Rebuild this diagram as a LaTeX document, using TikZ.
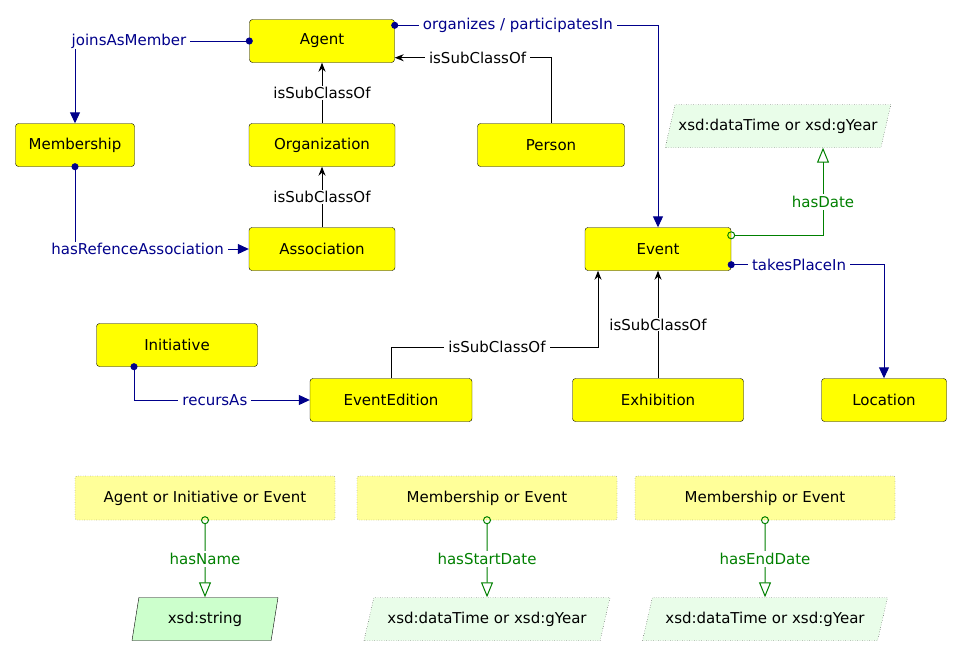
\documentclass[tikz,border=0pt]{standalone}
\usepackage{fontspec}
\setmainfont{DejaVu Sans}
\usetikzlibrary{arrows.meta,shapes.geometric}
\definecolor{propblue}{RGB}{0,0,139}
\definecolor{dpgreen}{RGB}{0,128,0}
\definecolor{clsyellow}{RGB}{255,255,0}
\definecolor{unionyellow}{RGB}{255,255,153}
\definecolor{dtgreen}{RGB}{233,253,233}
\definecolor{strgreen}{RGB}{204,255,204}
\newcommand{\lblfont}{\fontsize{15}{18}\selectfont}
\begin{document}
\begin{tikzpicture}[x=1pt,y=-1pt,
	cls/.style={rectangle,draw=black,fill=clsyellow,rounded corners=3pt,minimum height=43pt,font=\lblfont},
	union/.style={rectangle,draw=black,dotted,fill=unionyellow,rounded corners=2pt,minimum width=260pt,minimum height=44pt,font=\lblfont},
	dtype/.style={trapezium,trapezium left angle=65,trapezium right angle=115,trapezium stretches body,draw=black,dotted,fill=dtgreen,minimum height=43pt,font=\lblfont},
	objlbl/.style={fill=white,inner xsep=4pt,inner ysep=1pt,text=propblue,font=\lblfont},
	sublbl/.style={fill=white,inner xsep=4pt,inner ysep=1pt,text=black,font=\lblfont},
	datlbl/.style={fill=white,inner xsep=4pt,inner ysep=2pt,text=dpgreen,font=\lblfont},
	obj/.style={draw=propblue,line width=1pt,{Circle[length=7pt]}-{Triangle[length=11pt,width=10pt]},shorten <=-3.5pt},
	sub/.style={draw=black,line width=1pt,-{Stealth[length=9pt,width=7pt]}},
	dat/.style={draw=dpgreen,line width=1pt,{Circle[open,length=8pt]}-{Triangle[open,length=15pt,width=12pt]},shorten <=-4pt},
]
	\useasboundingbox (0,0) rectangle (971,656);
	% classes
	\node[cls,minimum width=145pt](agent) at (322,41){Agent};
	\node[cls,minimum width=119pt](membership) at (75,145){Membership};
	\node[cls,minimum width=146pt](organization) at (322,145){Organization};
	\node[cls,minimum width=147pt](person) at (551,145){Person};
	\node[cls,minimum width=146pt](association) at (322,249){Association};
	\node[cls,minimum width=146pt](event) at (658,249){Event};
	\node[cls,minimum width=161pt](initiative) at (177,345){Initiative};
	\node[cls,minimum width=162pt](edition) at (391,400){EventEdition};
	\node[cls,minimum width=171pt](exhibition) at (658,400){Exhibition};
	\node[cls,minimum width=125pt](location) at (884,400){Location};
	\node[dtype,minimum width=220pt](date) at (778,126){xsd:dataTime or xsd:gYear};
	% domains of the data properties
	\node[union](aie) at (205,498){Agent or Initiative or Event};
	\node[union](mes) at (487,498){Membership or Event};
	\node[union](mee) at (765,498){Membership or Event};
	\node[dtype,trapezium left angle=72,trapezium right angle=108,fill=strgreen,solid,minimum width=146pt](str) at (205,619){xsd:string};
	\node[dtype,minimum width=246pt](start) at (487,619){xsd:dataTime or xsd:gYear};
	\node[dtype,minimum width=245pt](end) at (765,619){xsd:dataTime or xsd:gYear};
	% object properties
	\draw[obj] (agent.west) -| (membership.north) node[objlbl,pos=0.345]{joinsAsMember};
	\draw[obj] (membership.south) |- (association.west) node[objlbl,pos=0.68]{hasRefenceAssociation};
	\draw[obj] ([yshift=-6pt]agent.north east) -| (event.north) node[objlbl,pos=0.234]{organizes / participatesIn};
	\draw[obj] ([yshift=6pt]event.south east) -| (location.north) node[objlbl,pos=0.222]{takesPlaceIn};
	\draw[obj] ([xshift=-43pt]initiative.south) |- (edition.west) node[objlbl,pos=0.73]{recursAs};
	% subclasses
	\draw[sub] (organization) -- (agent) node[sublbl,midway]{isSubClassOf};
	\draw[sub] (association) -- (organization) node[sublbl,midway]{isSubClassOf};
	\draw[sub] (person.north) |- ([yshift=5pt]agent.south east) node[sublbl,pos=0.735]{isSubClassOf};
	\draw[sub] (edition.north) -- ++(0,-31) -| ([xshift=-60pt]event.south) node[sublbl,pos=0.256]{isSubClassOf};
	\draw[sub] (exhibition.north) -- (event.south) node[sublbl,midway]{isSubClassOf};
	% data properties
	\draw[dat] ([yshift=-8pt]event.north east) -| ([xshift=45pt]date.south) node[datlbl,pos=0.69]{hasDate};
	\draw[dat] (aie.south) -- (str.north) node[datlbl,midway]{hasName};
	\draw[dat] (mes.south) -- (start.north) node[datlbl,midway]{hasStartDate};
	\draw[dat] (mee.south) -- (end.north) node[datlbl,midway]{hasEndDate};
\end{tikzpicture}
\end{document}
